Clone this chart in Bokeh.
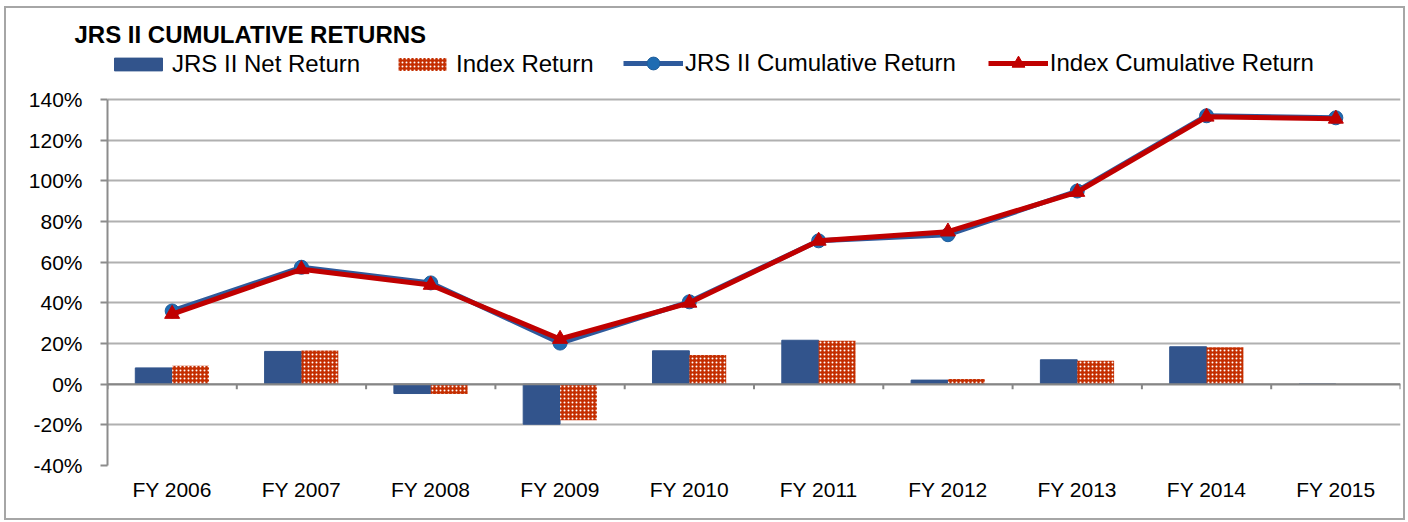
from bokeh.plotting import figure
from bokeh.layouts import column
from bokeh.models import (ColumnDataSource, FactorRange, Range1d, FixedTicker, NumeralTickFormatter,
                          Legend, LegendItem, Span)
from bokeh.transform import dodge
from bokeh.embed import file_html
from bokeh.resources import INLINE

categories = ["FY 2006", "FY 2007", "FY 2008", "FY 2009", "FY 2010",
              "FY 2011", "FY 2012", "FY 2013", "FY 2014", "FY 2015"]
jrs_net = [0.080, 0.161, -0.046, -0.197, 0.164, 0.216, 0.020, 0.120, 0.184, 0.000]
idx_ret = [0.090, 0.166, -0.048, -0.177, 0.144, 0.213, 0.026, 0.115, 0.182, -0.002]
jrs_cum = [0.360, 0.575, 0.498, 0.202, 0.405, 0.705, 0.735, 0.950, 1.320, 1.310]
idx_cum = [0.345, 0.565, 0.488, 0.222, 0.400, 0.705, 0.750, 0.945, 1.315, 1.305]
y_ticks = [-0.4, -0.2, 0.0, 0.2, 0.4, 0.6, 0.8, 1.0, 1.2, 1.4]

FONT = "Liberation Sans"

# layout geometry (pixels)
W, H = 1397, 510
BORDER_L, BORDER_R, BORDER_T, BORDER_B = 101, 3, 40, 53
TICK_SPAN_PX = 366          # height between lowest and highest gridline
HEADER_PX = H - BORDER_T - BORDER_B - TICK_SPAN_PX   # legend room inside frame
y_top = y_ticks[-1] + HEADER_PX * (y_ticks[-1] - y_ticks[0]) / TICK_SPAN_PX

src = ColumnDataSource(dict(cat=categories, jrs_net=jrs_net, idx_ret=idx_ret,
                            jrs_cum=jrs_cum, idx_cum=idx_cum))

p = figure(width=W, height=H, x_range=FactorRange(factors=categories),
           y_range=Range1d(y_ticks[0], y_top),
           output_backend="svg", toolbar_location=None,
           min_border_left=BORDER_L, min_border_right=BORDER_R,
           min_border_top=BORDER_T, min_border_bottom=BORDER_B)
p.outline_line_color = None
p.background_fill_color = "white"
p.border_fill_color = "white"

# title
p.title.text = "JRS II CUMULATIVE RETURNS"
p.title.text_font = FONT
p.title.text_font_size = "24px"
p.title.text_font_style = "bold"
p.title.text_color = "black"
p.title.align = "left"
p.title.offset = -33
p.title.standoff = 2

# grid
p.xgrid.grid_line_color = None
p.ygrid.ticker = FixedTicker(ticks=y_ticks)
p.ygrid.grid_line_color = "#B0B0B0"
p.ygrid.grid_line_width = 2

# y axis
p.yaxis.ticker = FixedTicker(ticks=y_ticks)
p.yaxis.bounds = (y_ticks[0], y_ticks[-1])
p.yaxis.formatter = NumeralTickFormatter(format="0%")
p.yaxis.axis_line_color = "#8C8C8C"
p.yaxis.axis_line_width = 2
p.yaxis.major_tick_line_color = "#8C8C8C"
p.yaxis.major_tick_line_width = 2
p.yaxis.major_tick_out = 7
p.yaxis.major_tick_in = 0
p.yaxis.minor_tick_line_color = None
p.yaxis.major_label_text_font = FONT
p.yaxis.major_label_text_font_size = "21px"
p.yaxis.major_label_text_color = "black"
p.yaxis.major_label_standoff = 18

# x axis (labels only)
p.xaxis.axis_line_color = None
p.xaxis.major_tick_line_color = None
p.xaxis.major_tick_out = 0
p.xaxis.major_tick_in = 0
p.xaxis.minor_tick_line_color = None
p.xaxis.major_label_text_font = FONT
p.xaxis.major_label_text_font_size = "21px"
p.xaxis.major_label_text_color = "black"
p.xaxis.major_label_standoff = 12

# bars
r_jrs = p.vbar(x=dodge("cat", -0.1425, range=p.x_range), top="jrs_net", width=0.285, source=src,
               fill_color="#32548C", line_color="#32548C", line_width=1)
r_idx = p.vbar(x=dodge("cat", 0.1425, range=p.x_range), top="idx_ret", width=0.285, source=src,
               fill_color="#C42E00", line_color=None,
               hatch_pattern="dot", hatch_color="white", hatch_scale=4, hatch_weight=2.5)

# zero axis line and category-boundary ticks
p.add_layout(Span(location=0, dimension="width", line_color="#868686", line_width=2))
bnd = list(range(len(categories) + 1))
p.segment(x0=bnd, x1=bnd, y0=[0] * len(bnd), y1=[-0.025] * len(bnd),
          line_color="#868686", line_width=2)

# cumulative lines
l_jrs = p.line(x="cat", y="jrs_cum", source=src, line_color="#2E5A9C", line_width=5)
s_jrs = p.scatter(x="cat", y="jrs_cum", source=src, marker="circle", size=14,
                  fill_color="#1F6CB2", line_color="#1F5E9C", line_width=1)
l_idx = p.line(x="cat", y="idx_cum", source=src, line_color="#C00000", line_width=5)
s_idx = p.scatter(x="cat", y="idx_cum", source=src, marker="triangle", size=15,
                  fill_color="#C00000", line_color="#C00000")

LEG_CENTER = H - BORDER_B - 55   # legend row centre above frame bottom (px)

leg_bars = Legend(items=[
    LegendItem(label="JRS II Net Return", renderers=[r_jrs]),
    LegendItem(label="Index Return", renderers=[r_idx]),
], orientation="horizontal", location=(1, LEG_CENTER - 15), margin=0, padding=0,
    glyph_width=60, glyph_height=16, label_height=16, label_standoff=4, spacing=32,
    border_line_color=None, background_fill_alpha=0,
    label_text_font=FONT, label_text_font_size="24px", label_text_color="black")
p.add_layout(leg_bars, "center")

leg_lines = Legend(items=[
    LegendItem(label="JRS II Cumulative Return", renderers=[l_jrs, s_jrs]),
    LegendItem(label="Index Cumulative Return", renderers=[l_idx, s_idx]),
], orientation="horizontal", location=(516, LEG_CENTER - 16), margin=0, padding=0,
    glyph_width=60, glyph_height=32, label_height=32, label_standoff=2, spacing=32,
    border_line_color=None, background_fill_alpha=0,
    label_text_font=FONT, label_text_font_size="24px", label_text_color="black")
p.add_layout(leg_lines, "center")

layout = column(p, styles={"border": "2px solid #A6A6A6", "margin-left": "4px", "margin-top": "6px"})

open("out.html", "w").write(file_html(layout, INLINE))
